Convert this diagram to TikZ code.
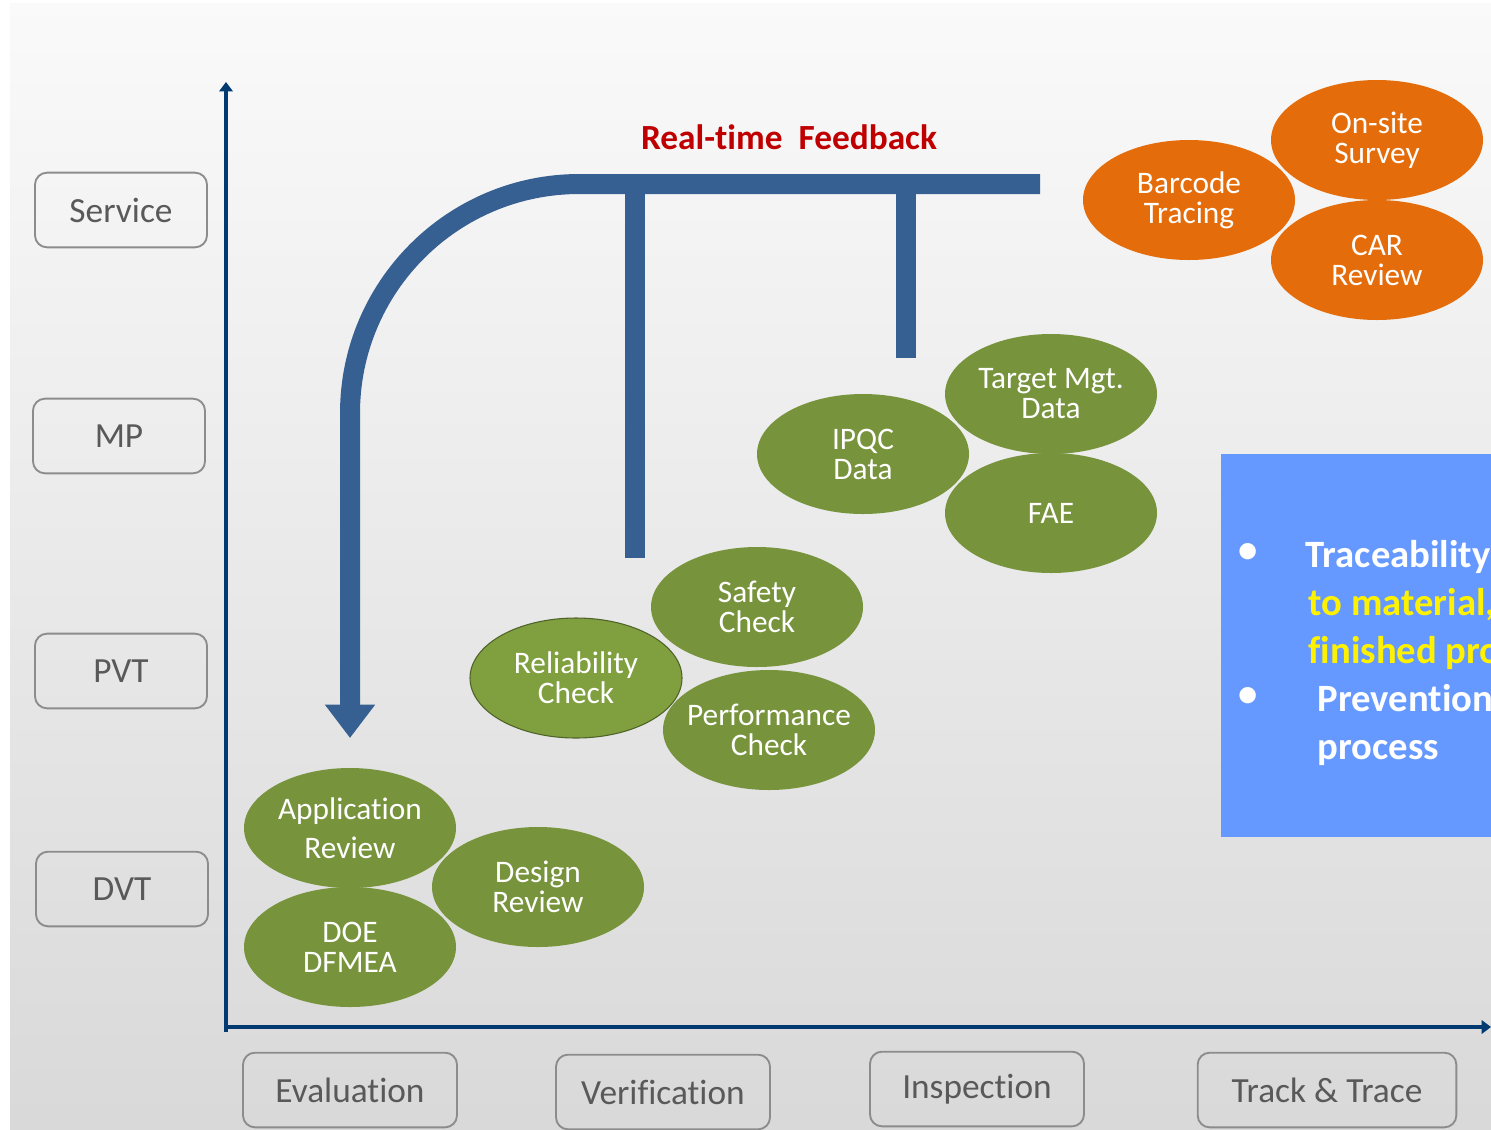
\documentclass[tikz,border=0pt]{standalone}
\usepackage{fontspec}
\setmainfont[Ligatures=NoCommon]{Carlito}
\usetikzlibrary{arrows.meta,shapes.geometric}
\definecolor{axisblue}{HTML}{003A70}
\definecolor{loopblue}{HTML}{376092}
\definecolor{leafgreen}{HTML}{77933C}
\definecolor{lightleaf}{HTML}{80A040}
\definecolor{darkleaf}{HTML}{4F6228}
\definecolor{orng}{HTML}{E46C0A}
\definecolor{boxgray}{HTML}{8C8C8C}
\definecolor{txtgray}{HTML}{595959}
\definecolor{panelblue}{HTML}{6699FF}
\definecolor{fbred}{HTML}{C00000}

\begin{document}
\begin{tikzpicture}[x=0.75pt, y=-0.75pt,
    stage/.style = {draw=boxgray, line width=1.4pt, rounded corners=9pt,
        minimum height=56pt, text=txtgray, inner sep=0pt,
        font=\fontsize{26.5}{30}\selectfont},
    phase/.style = {stage, minimum width=129pt},
    task/.style = {ellipse, fill=leafgreen, text=white, align=center,
        minimum width=159pt, minimum height=90pt, inner ysep=0pt, inner xsep=-8pt,
        font=\fontsize{23.5}{22.5}\selectfont},
    trace/.style = {task, fill=orng},
    axis/.style = {axisblue, line width=3.5pt, -{Triangle[width=10pt,length=7pt]}},
    loop/.style = {loopblue, line width=15pt},
    point/.style = {font=\bfseries\fontsize{29}{36}\selectfont, anchor=base west}]
    \useasboundingbox (0,0) rectangle (1491,1129);
    % background
    \shade[top color=white!98!black, bottom color=white!85!black]
        (10,3) rectangle (1491,1129);

    % stages on the left
    \node[phase] (svc) at (121,210) {Service};
    \node[phase] (mp)  at (119,436) {MP};
    \node[phase] (pvt) at (121,671) {PVT};
    \node[phase] (dvt) at (122,889) {DVT};

    % steps along the bottom
    \node[stage, minimum width=160.5pt] (eval) at (350,1090) {Evaluation};
    \node[stage, minimum width=160.5pt] (veri) at (663,1092) {Verification};
    \node[stage, minimum width=160.5pt] (insp) at (977,1089) {Inspection};
    \node[stage, minimum width=194pt]   (tnt)  at (1327,1090) {Track \& Trace};

    % axes
    \coordinate (org) at (226,1032);
    \coordinate (ytop) at (226,82);
    \coordinate (xorg) at (224,1027);
    \coordinate (xend) at (1491,1027);
    \draw[axis] (org) -- (ytop);
    \draw[axis] (xorg) -- (xend);

    % feedback loop
    \coordinate (fbend) at (1040,184);
    \coordinate (fbcorner) at (350,184);
    \coordinate (fbtip) at (350,738);
    \coordinate (drop1) at (635,184);
    \coordinate (drop1e) at (635,558);
    \coordinate (drop2) at (906,184);
    \coordinate (drop2e) at (906,358);
    \draw[loop, rounded corners=172pt, -{Triangle[width=36pt,length=25pt]}]
        (fbend) -- (fbcorner) -- (fbtip);
    \draw[loop] (drop1) -- (drop1e);
    \draw[loop] (drop2) -- (drop2e);
    \node[text=fbred, font=\bfseries\fontsize{26.5}{30}\selectfont] (fb)
        at (789,137) {Real-time\ \ Feedback};

    % evaluation
    \node[task, font=\fontsize{23.5}{29}\selectfont] (app) at (350,828) {Application\\Review};
    \node[task] (doe) at (350,947) {DOE\\DFMEA};
    \node[task] (des) at (538,887) {Design\\Review};

    % verification
    \node[task, fill=lightleaf, draw=darkleaf, line width=0.8pt] (rel) at (576,678) {Reliability\\Check};
    \node[task] (saf) at (757,607) {Safety\\Check};
    \node[task] (perf) at (769,730) {Performance\\Check};

    % inspection
    \node[task] (ipqc) at (863,454) {IPQC\\Data};
    \node[task] (tgt) at (1051,394) {Target Mgt.\\Data};
    \node[task] (fae) at (1051,513) {FAE};

    % track and trace
    \node[trace] (bar) at (1189,200) {Barcode\\Tracing};
    \node[trace] (osv) at (1377,140) {On-site\\Survey};
    \node[trace] (car) at (1377,260) {CAR\\Review};

    % panel on the right
    \fill[panelblue] (1221,454) rectangle (1491,837);
    \begin{scope}
        \clip (1221,454) rectangle (1491,837);
        \node[point, text=white, anchor=center] (b1) at (1248,553) {\textbullet};
        \node[point, text=white, anchor=center] (b2) at (1248,697) {\textbullet};
        \node[point, text=white] (l1) at (1301,567) {Traceability};
        \node[point, text=yellow] (l2) at (1304,615) {to material,};
        \node[point, text=yellow] (l3) at (1304,663) {finished products};
        \node[point, text=white] (l4) at (1313,711) {Prevention};
        \node[point, text=white] (l5) at (1313,759) {process};
    \end{scope}
\end{tikzpicture}
\end{document}
